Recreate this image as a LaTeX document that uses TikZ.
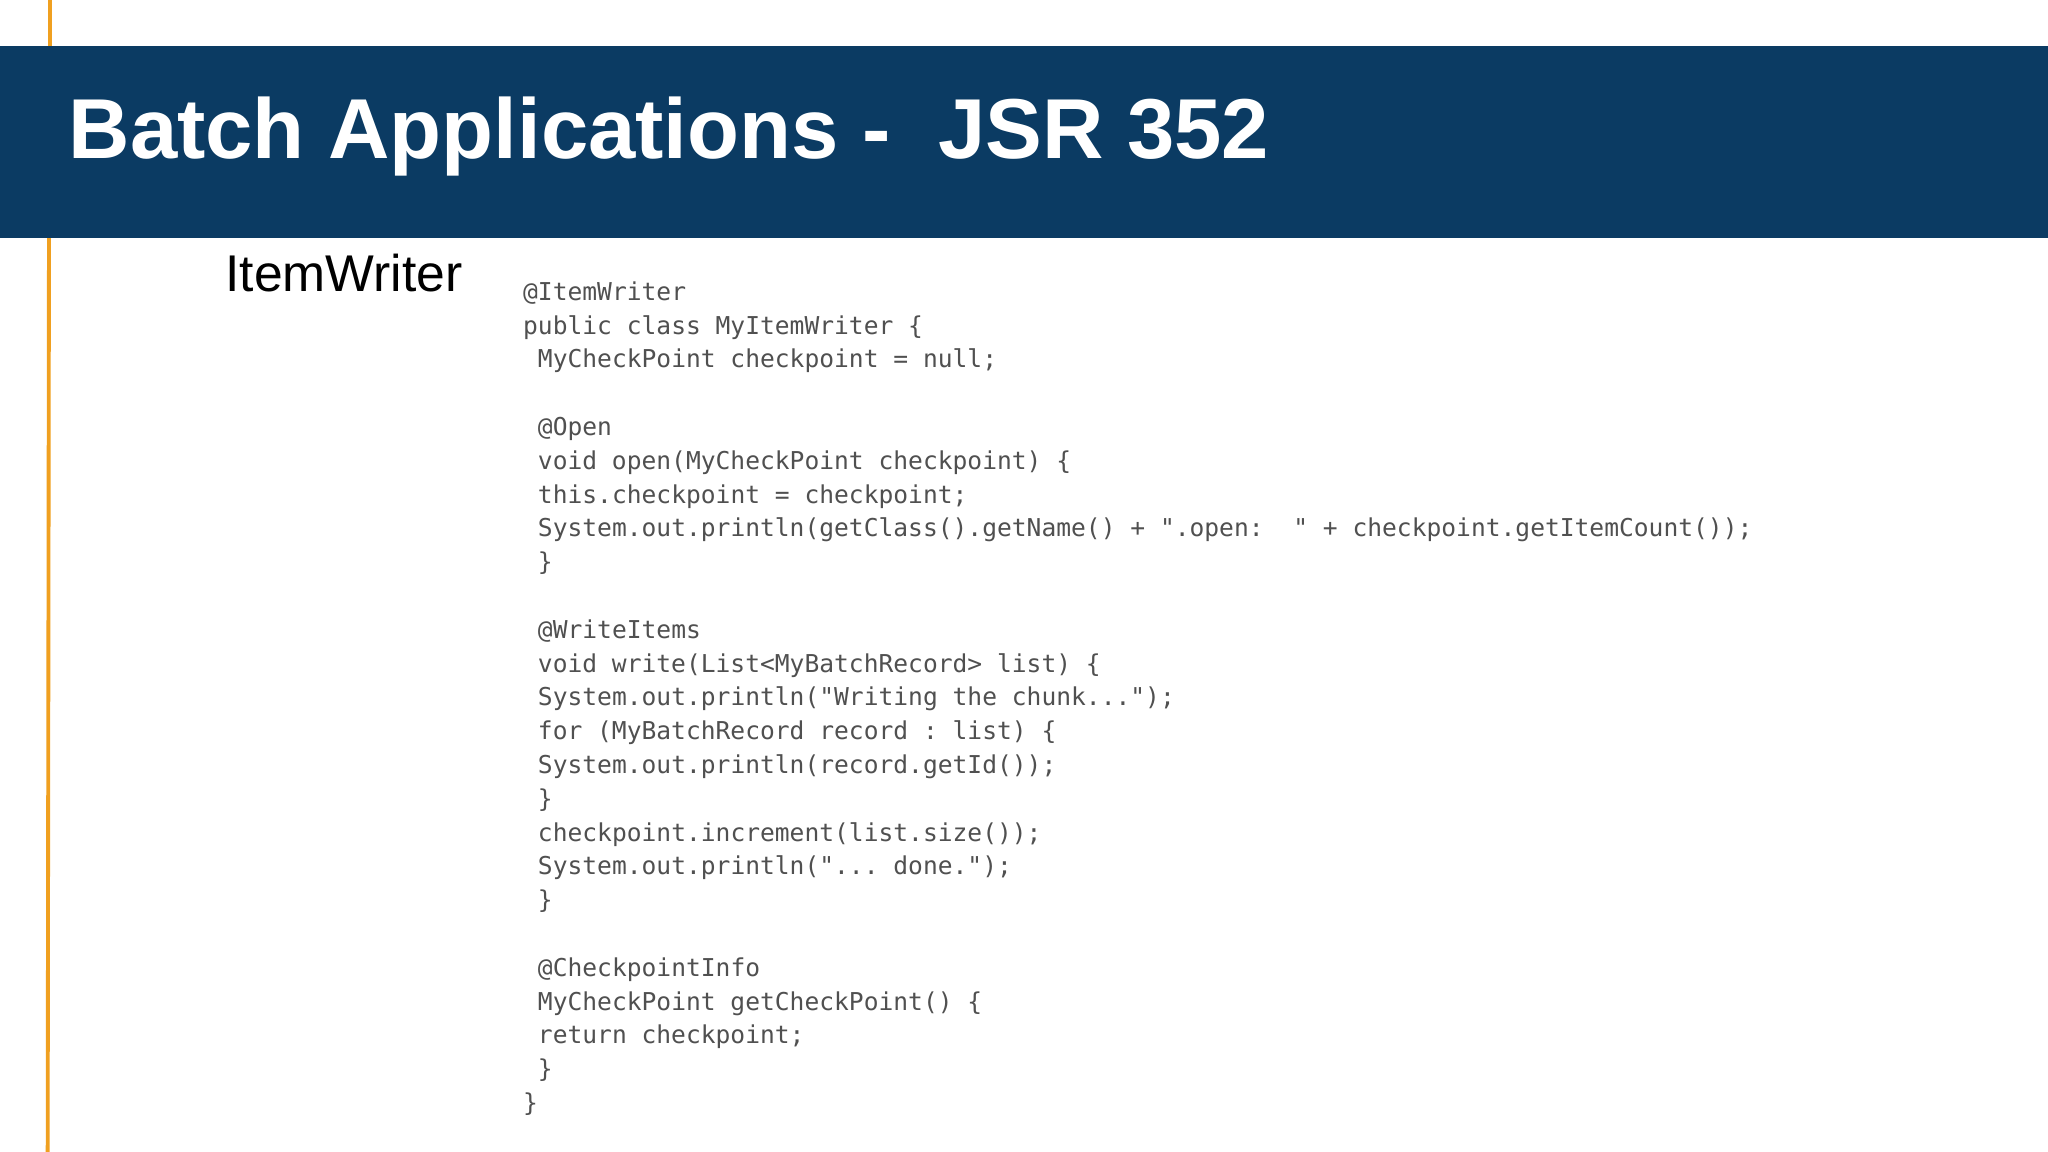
\documentclass[tikz,border=0pt]{standalone}
\usepackage{fontspec}
\setmainfont{Liberation Sans}
\setmonofont{DejaVu Sans Mono}
\definecolor{band}{HTML}{0B3B63}
\definecolor{orng}{HTML}{F0A020}
\definecolor{code}{HTML}{505050}
\begin{document}
\begin{tikzpicture}[x=0.01306cm,y=-0.01306cm,
  cl/.style={anchor=base west,inner sep=0pt,text=code,font=\fontsize{7.0pt}{9pt}\ttfamily}]
\useasboundingbox (0,0) rectangle (1568,882);
\fill[white] (0,0) rectangle (1568,882);
\draw[orng,line width=1.1pt] (38.5,0) -- (38.5,35);
\draw[orng,line width=1.1pt] (37.5,182) -- (36.5,882);
\fill[band] (0,35) rectangle (1568,182);
\node[anchor=base west,inner sep=0pt,text=white,font=\fontsize{24.2pt}{26pt}\selectfont\bfseries] (title) at (52,121) {Batch Applications -\ \ JSR 352};
\node[anchor=base west,inner sep=0pt,font=\fontsize{14.7pt}{17pt}\selectfont] (iw) at (172,223) {ItemWriter};
\def\L#1#2{\node[cl] (c#1) at (400,230+25.875*#1) {#2};}
\L{0}{@ItemWriter}
\L{1}{public class MyItemWriter \{}
\L{2}{\ MyCheckPoint checkpoint = null;}
\L{4}{\ @Open}
\L{5}{\ void open(MyCheckPoint checkpoint) \{}
\L{6}{\ this.checkpoint = checkpoint;}
\L{7}{\ System.out.println(getClass().getName() + ".open:\ \ " + checkpoint.getItemCount());}
\L{8}{\ \}}
\L{10}{\ @WriteItems}
\L{11}{\ void write(List<MyBatchRecord> list) \{}
\L{12}{\ System.out.println("Writing the chunk...");}
\L{13}{\ for (MyBatchRecord record : list) \{}
\L{14}{\ System.out.println(record.getId());}
\L{15}{\ \}}
\L{16}{\ checkpoint.increment(list.size());}
\L{17}{\ System.out.println("... done.");}
\L{18}{\ \}}
\L{20}{\ @CheckpointInfo}
\L{21}{\ MyCheckPoint getCheckPoint() \{}
\L{22}{\ return checkpoint;}
\L{23}{\ \}}
\L{24}{\}}
\end{tikzpicture}
\end{document}
